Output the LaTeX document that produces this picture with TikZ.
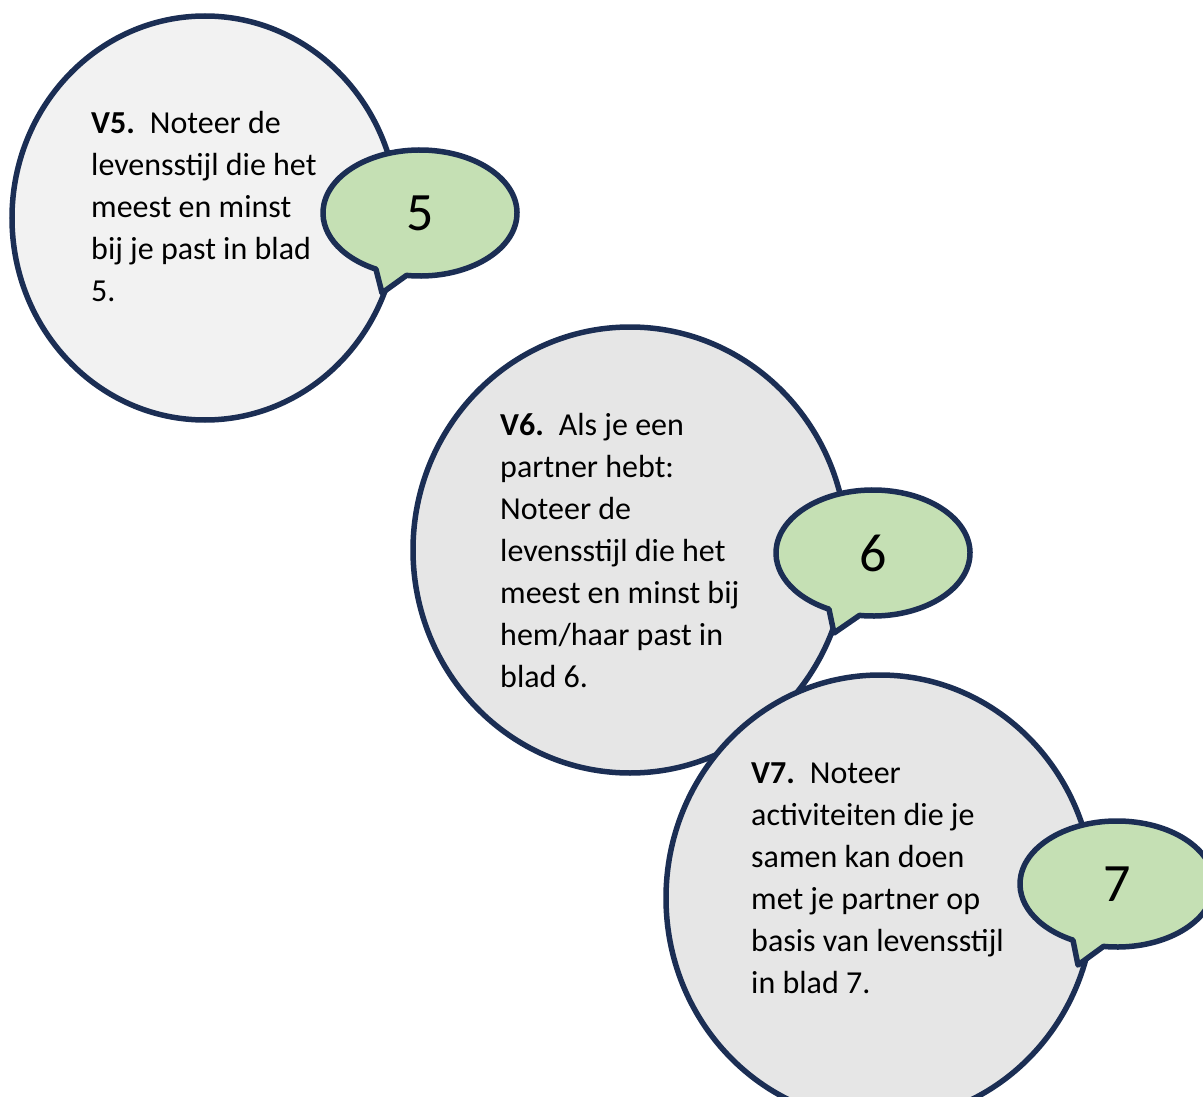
\documentclass[tikz,border=0pt]{standalone}
\usepackage{fontspec}
\setmainfont{Carlito}
\usetikzlibrary{calc}
\definecolor{ink}{HTML}{1B2E54}
\definecolor{paleA}{HTML}{F2F2F2}
\definecolor{paleB}{HTML}{E6E6E6}
\definecolor{leaf}{HTML}{C5E0B4}
\tikzset{
  disc/.style={draw=ink, line width=5.5pt},
  talk/.style={draw=ink, fill=leaf, line width=5.5pt, line join=round},
  % anchored at the baseline of the last line
  qtext/.style={anchor=base west, inner sep=0pt, align=left,
                font=\fontsize{32}{42}\selectfont},
  num/.style={inner sep=0pt, font=\fontsize{54}{54}\selectfont},
}
\begin{document}
\begin{tikzpicture}[x=1pt, y=-1pt]
\useasboundingbox (0,0) rectangle (1203,1097);
\clip (0,0) rectangle (1203,1097);

% question 5
\draw[disc, fill=paleA] (205,218) ellipse[x radius=193, y radius=202];
\node[qtext] (q5) at (91,301)
  {\textbf{V5.}\hspace{15pt}Noteer de\\levensstijl die het\\meest en minst\\bij je past in blad\\5.};
\coordinate (c5) at (420,213);
\coordinate (t5) at (382,293);
\draw[talk] (t5) -- ($(c5)+(98:97 and 63)$)
  arc[start angle=98, end angle=-243, x radius=97, y radius=63] -- cycle;
\node[num] (n5) at (c5) {5};

% question 6
\draw[disc, fill=paleB] (630,550) ellipse[x radius=217, y radius=223];
\node[qtext] (q6) at (500,687)
  {\textbf{V6.}\hspace{15pt}Als je een\\partner hebt:\\Noteer de\\levensstijl die het\\meest en minst bij\\hem/haar past in\\blad 6.};
\coordinate (c6) at (873,553);
\coordinate (t6) at (834,633);
\draw[talk] (t6) -- ($(c6)+(98:97 and 63)$)
  arc[start angle=98, end angle=-243, x radius=97, y radius=63] -- cycle;
\node[num] (n6) at (c6) {6};

% question 7
\draw[disc, fill=paleB] (880,898) ellipse[x radius=214, y radius=223];
\node[qtext] (q7) at (751,993)
  {\textbf{V7.}\hspace{15pt}Noteer\\activiteiten die je\\samen kan doen\\met je partner op\\basis van levensstijl\\in blad 7.};
\coordinate (c7) at (1117,884);
\coordinate (t7) at (1078,965);
\draw[talk] (t7) -- ($(c7)+(98:97 and 63)$)
  arc[start angle=98, end angle=-243, x radius=97, y radius=63] -- cycle;
\node[num] (n7) at (c7) {7};
\end{tikzpicture}
\end{document}
